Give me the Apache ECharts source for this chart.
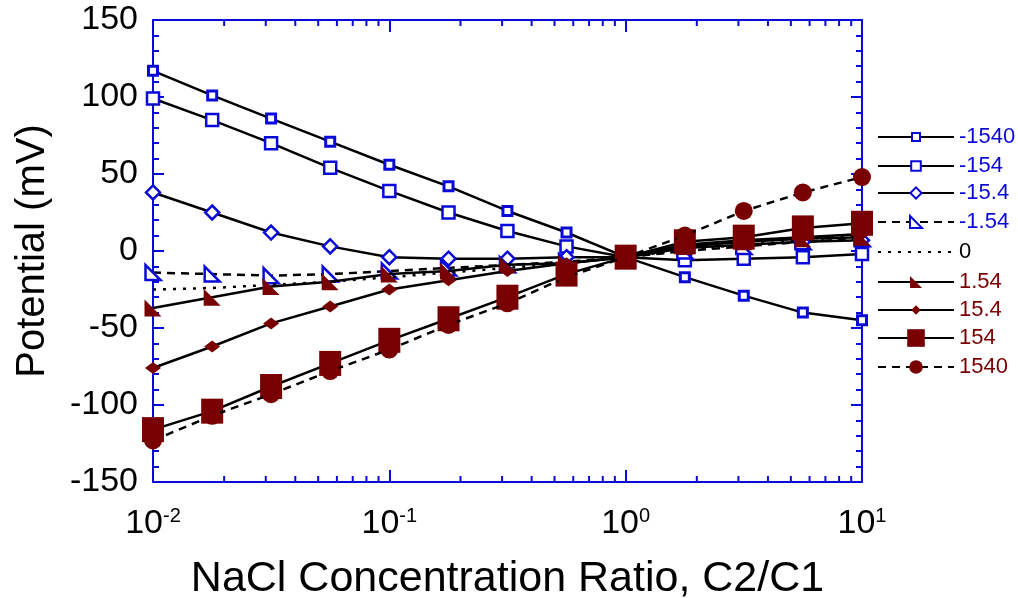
<!DOCTYPE html>
<html>
<head>
<meta charset="utf-8">
<script src="https://cdn.jsdelivr.net/npm/echarts@6/dist/echarts.min.js"></script>
<style>
html,body{margin:0;padding:0;background:#fff;}
#chart{width:1018px;height:598px;}
</style>
</head>
<body>
<div id="chart"></div>
<script>
// ---- data ----
const ratios = [0.01, 0.0178, 0.0316, 0.0562, 0.1, 0.178, 0.316, 0.562, 1, 1.78, 3.16, 5.62, 10];
const seriesNames = ['-1540', '-154', '-15.4', '-1.54', '0', '1.54', '15.4', '154', '1540'];
const vNeg1540 = [117, 101, 86, 71, 56, 42, 26, 12, -4, -17, -29, -40, -45];
const vNeg154  = [99, 85, 70, 54, 39, 25, 13, 3, -4, -6, -5, -4, -2];
const vNeg15_4 = [38, 25, 12, 3, -4, -5, -5, -4, -4, 2, 4, 6, 7];
const vNeg1_54 = [-14, -15, -16, -15, -13, -11, -9, -7, -4, 0, 3, 6, 8];
const vZero    = [-25, -24, -22, -20, -17, -14, -11, -8, -4, 1, 4, 7, 10];
const vPos1_54 = [-37, -30, -23, -20, -15, -13, -9, -8, -4, 3, 6, 8, 9];
const vPos15_4 = [-76, -62, -47, -36, -25, -19, -13, -8, -4, 4, 7, 9, 11];
const vPos154  = [-116, -104, -88, -73, -58, -44, -30, -15, -4, 6, 9, 15, 18];
const vPos1540 = [-123, -107, -93, -78, -64, -48, -34, -17, -4, 10, 26, 38, 48];
const allValues = [vNeg1540, vNeg154, vNeg15_4, vNeg1_54, vZero, vPos1_54, vPos15_4, vPos154, vPos1540];
const xMinorTicks = [0.02,0.03,0.04,0.05,0.06,0.07,0.08,0.09,
                     0.2,0.3,0.4,0.5,0.6,0.7,0.8,0.9,
                     2,3,4,5,6,7,8,9];

// ---- styles ----
const BLUE = '#0a0ad8';
const RED = '#780000';
const FONT = 'Liberation Sans, Arial, sans-serif';
const triPath = 'path://M0,0 L0,10 L10,10 Z';
const styles = [
  {sym:'rect', size:9, fill:'#fff', color:BLUE, bw:3, dash:'solid', lh:10},
  {sym:'rect', size:12, fill:'#fff', color:BLUE, bw:2.5, dash:'solid', lh:12},
  {sym:'diamond', size:14, fill:'#fff', color:BLUE, bw:2.5, dash:'solid', lh:14},
  {sym:triPath, size:15, fill:'#fff', color:BLUE, bw:2.5, dash:[8,6], lh:15},
  {sym:'none', size:0, fill:'#000', color:'#000', bw:0, dash:[3,7], lh:14},
  {sym:triPath, size:17, fill:RED, color:RED, bw:0, dash:'solid', lh:15},
  {sym:'diamond', size:[16,12], fill:RED, color:RED, bw:0, dash:'solid', lh:12},
  {sym:'rect', size:[22,25], fill:RED, color:RED, bw:0, dash:'solid', lh:22},
  {sym:'circle', size:18, fill:RED, color:RED, bw:0, dash:[8,6], lh:17}
];
const legendCenters = [137, 166, 193, 222, 252, 282, 310, 338, 367];
const legendColors = [BLUE, BLUE, BLUE, BLUE, '#000', RED, RED, RED, RED];

const series = seriesNames.map((name, i) => ({
  name: name,
  type: 'line',
  xAxisIndex: 0, yAxisIndex: 0,
  data: ratios.map((r, k) => [r, allValues[i][k]]),
  symbol: styles[i].sym === 'none' ? 'circle' : styles[i].sym,
  symbolSize: styles[i].size,
  showSymbol: styles[i].sym !== 'none',
  lineStyle: {color: '#000', width: 2.5, type: styles[i].dash},
  itemStyle: {color: styles[i].fill, borderColor: styles[i].color, borderWidth: styles[i].bw, opacity: 1},
  emphasis: {disabled: true},
  z: 3 + i
}));

series.push({
  type: 'custom',
  xAxisIndex: 0, yAxisIndex: 0,
  data: xMinorTicks.map(v => [v]),
  silent: true,
  clip: false,
  z: 10,
  renderItem: function (params, api) {
    const b = api.coord([api.value(0), -150]);
    const t = api.coord([api.value(0), 150]);
    return {
      type: 'group',
      children: [
        {type: 'line', shape: {x1: b[0], y1: b[1], x2: b[0], y2: b[1] - 6}, style: {stroke: BLUE, lineWidth: 2}},
        {type: 'line', shape: {x1: t[0], y1: t[1], x2: t[0], y2: t[1] + 6}, style: {stroke: BLUE, lineWidth: 2}}
      ]
    };
  }
});

const legends = seriesNames.map((name, i) => {
  const item = {name: name, textStyle: {color: legendColors[i]}};
  if (styles[i].sym === 'none') item.itemStyle = {opacity: 0};
  const h = Math.max(styles[i].lh, 22);
  return {
    data: [item],
    left: 877,
    top: legendCenters[i] - h / 2,
    itemWidth: 76,
    itemHeight: styles[i].lh,
    selectedMode: false,
    textStyle: {fontSize: 22, fontFamily: FONT},
    padding: 0
  };
});

const axisLineStyle = {onZero: false, lineStyle: {color: BLUE, width: 2}};
const chart = echarts.init(document.getElementById('chart'), null, {renderer: 'canvas'});
chart.setOption({
  animation: false,
  backgroundColor: '#fff',
  grid: {left: 153, right: 156, top: 20, bottom: 116, containLabel: false, outerBoundsMode: 'none'},
  legend: legends,
  xAxis: [
    {
      type: 'log', logBase: 10, min: 0.01, max: 10, position: 'bottom',
      axisLine: axisLineStyle,
      axisTick: {show: true, inside: true, length: 12, lineStyle: {color: BLUE, width: 2}},
      splitLine: {show: false},
      name: 'NaCl Concentration Ratio, C2/C1',
      nameLocation: 'middle', nameGap: 76,
      nameTextStyle: {fontSize: 43, fontFamily: FONT, color: '#000'},
      axisLabel: {
        margin: 24, color: '#000', fontFamily: FONT,
        formatter: function (v) {
          const e = Math.round(Math.log10(v));
          return '{b|10}{s|' + e + '}';
        },
        rich: {
          b: {fontSize: 34, fontFamily: FONT, color: '#000'},
          s: {fontSize: 20, fontFamily: FONT, color: '#000', padding: [0, 0, 16, 0]}
        }
      }
    },
    {
      type: 'log', logBase: 10, min: 0.01, max: 10, position: 'top',
      axisLine: axisLineStyle,
      axisTick: {show: true, inside: true, length: 12, lineStyle: {color: BLUE, width: 2}},
      axisLabel: {show: false},
      splitLine: {show: false}
    }
  ],
  yAxis: [
    {
      type: 'value', min: -150, max: 150, interval: 50, position: 'left',
      axisLine: {show: true, onZero: false, lineStyle: {color: BLUE, width: 2}},
      axisTick: {show: true, inside: true, length: 11, lineStyle: {color: BLUE, width: 2}},
      minorTick: {show: true, splitNumber: 5, length: 6, lineStyle: {color: BLUE, width: 2}},
      splitLine: {show: false},
      axisLabel: {margin: 15, fontSize: 34, fontFamily: FONT, color: '#000', padding: [8, 0, 0, 0]},
      name: 'Potential (mV)',
      nameLocation: 'middle', nameGap: 100,
      nameTextStyle: {fontSize: 40, fontFamily: FONT, color: '#000'}
    },
    {
      type: 'value', min: -150, max: 150, interval: 50, position: 'right',
      axisLine: {show: true, onZero: false, lineStyle: {color: BLUE, width: 2}},
      axisTick: {show: true, inside: true, length: 11, lineStyle: {color: BLUE, width: 2}},
      minorTick: {show: true, splitNumber: 5, length: 6, lineStyle: {color: BLUE, width: 2}},
      splitLine: {show: false},
      axisLabel: {show: false}
    }
  ],
  series: series
});
</script>
</body>
</html>
